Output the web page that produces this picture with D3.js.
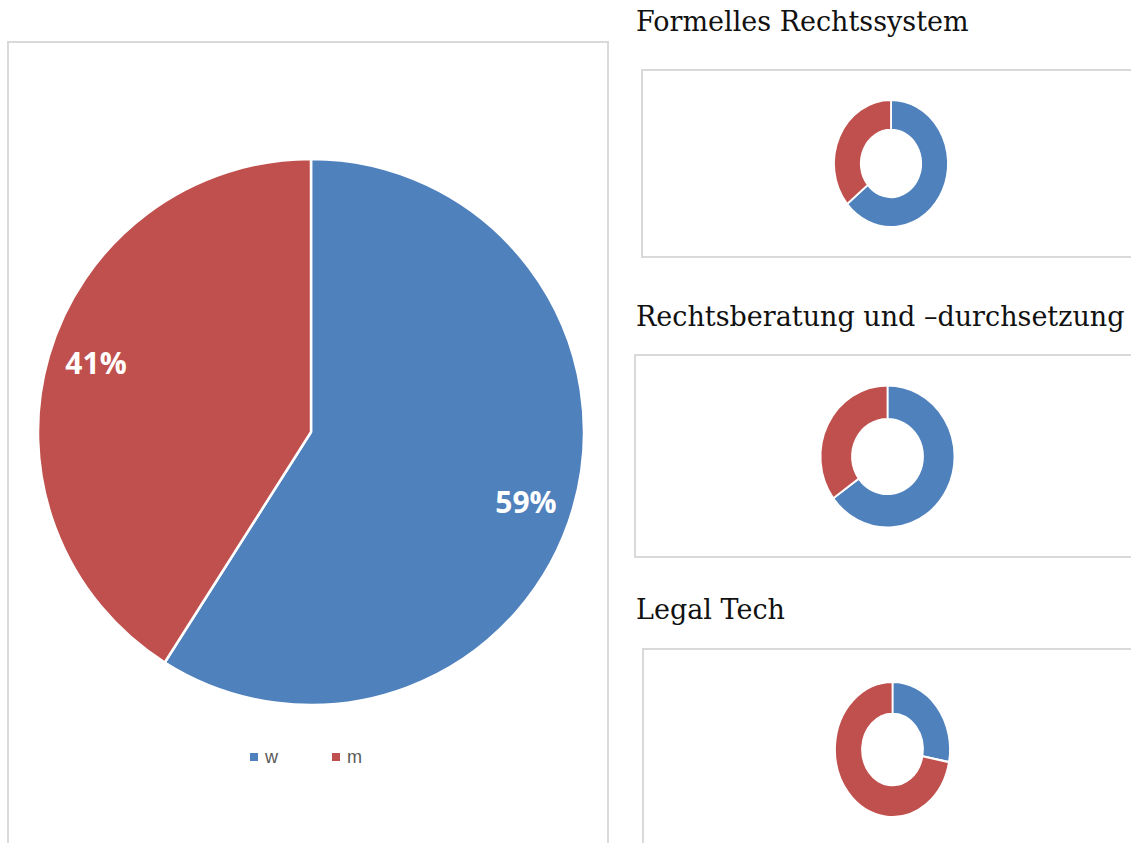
<!DOCTYPE html>
<html>
<head>
<meta charset="utf-8">
<script src="https://cdn.jsdelivr.net/npm/d3@7"></script>
<style>
  body { margin: 0; background: #fff; }
  svg { display: block; }
</style>
</head>
<body>
<svg id="vis" width="1131" height="843"></svg>
<script>
'use strict';

// legend / series
var categories = ['w', 'm'];
var colors = ['#4f81bd', '#c0504d'];

// overall share (big pie)
var totalValues = [59, 41];

// area charts (donuts)
var areaTitles = ['Formelles Rechtssystem', 'Rechtsberatung und \u2013durchsetzung', 'Legal Tech'];
var areaValues = [
    [64, 36],
    [65, 35],
    [28, 72]
];

var svg = d3.select('#vis');
var pie = d3.pie().sort(null).value(function (d) { return d; });
var color = d3.scaleOrdinal().domain(categories).range(colors);

/* big pie with its frame */
svg.append('rect')
    .attr('x', 8).attr('y', 42)
    .attr('width', 600).attr('height', 820)
    .attr('fill', '#fff')
    .attr('stroke', '#d9d9d9')
    .attr('stroke-width', 2);

var R = 273;
var bigG = svg.append('g').attr('transform', 'translate(311,432)');
var bigArc = d3.arc().innerRadius(0).outerRadius(R);
var labelArc = d3.arc().innerRadius(R * 0.82).outerRadius(R * 0.82);

var bigData = pie(totalValues);
bigG.selectAll('path')
    .data(bigData)
    .enter().append('path')
    .attr('d', bigArc)
    .attr('fill', function (d, i) { return color(categories[i]); })
    .attr('stroke', '#fff')
    .attr('stroke-width', 2.5)
    .attr('stroke-linejoin', 'round');

//labels sit a bit off the slice middle, like the original
bigG.selectAll('text')
    .data(bigData)
    .enter().append('text')
    .attr('transform', function (d) {
        var c = labelArc.centroid(d);
        var shift = c[0] < 0 ? -6 : 8;
        return 'translate(' + c[0] + ',' + (c[1] + shift) + ')';
    })
    .attr('text-anchor', 'middle')
    .attr('dy', '0.35em')
    .attr('fill', '#fff')
    .style('font-family', '"Open Sans", sans-serif')
    .style('font-weight', 700)
    .style('font-size', '30px')
    .text(function (d) { return d.data + '%'; });

//legend
var legend = svg.append('g').attr('transform', 'translate(250,757)');
var items = legend.selectAll('g')
    .data(categories)
    .enter().append('g')
    .attr('transform', function (d, i) { return 'translate(' + (i * 82) + ',0)'; });
items.append('rect')
    .attr('x', 0).attr('y', -4)
    .attr('width', 8).attr('height', 8)
    .attr('fill', function (d) { return color(d); });
items.append('text')
    .attr('x', 15).attr('dy', '0.35em')
    .attr('fill', '#595959')
    .style('font-family', '"Liberation Sans", Arial, sans-serif')
    .style('font-size', '18px')
    .text(function (d) { return d; });

/* small donuts, one per area */
var panels = [
    { titleY: 31, boxX: 642, boxY: 70, boxH: 187, cx: 891, cy: 163.5, rx: 57, ry: 63.5 },
    { titleY: 326, boxX: 635, boxY: 355, boxH: 202, cx: 887.5, cy: 456.5, rx: 67, ry: 71 },
    { titleY: 619, boxX: 643, boxY: 649, boxH: 230, cx: 892.5, cy: 749.5, rx: 57.5, ry: 67.5 }
];

areaTitles.forEach(function (title, k) {
    var p = panels[k];
    svg.append('text')
        .attr('x', 636).attr('y', p.titleY)
        .attr('fill', '#111')
        .style('font-family', '"DejaVu Serif", serif')
        .style('font-size', '27px')
        .text(title);

    svg.append('rect')
        .attr('x', p.boxX).attr('y', p.boxY)
        .attr('width', 1131 - p.boxX + 20).attr('height', p.boxH)
        .attr('fill', '#fff')
        .attr('stroke', '#d9d9d9')
        .attr('stroke-width', 2);

    var g = svg.append('g')
        .attr('transform', 'translate(' + p.cx + ',' + p.cy + ') scale(1,' + (p.ry / p.rx) + ')');
    var arc = d3.arc().innerRadius(p.rx * 0.53).outerRadius(p.rx);
    g.selectAll('path')
        .data(pie(areaValues[k]))
        .enter().append('path')
        .attr('d', arc)
        .attr('fill', function (d, i) { return color(categories[i]); })
        .attr('stroke', '#fff')
        .attr('stroke-width', 1.8);
});
</script>
</body>
</html>
